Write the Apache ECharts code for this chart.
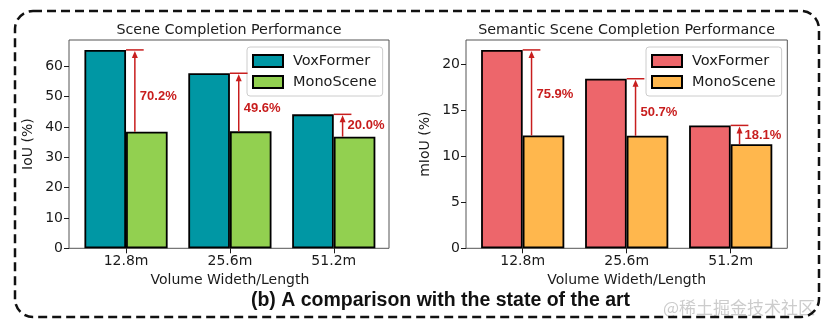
<!DOCTYPE html>
<html>
<head>
<meta charset="utf-8">
<script src="https://cdn.jsdelivr.net/npm/echarts@6/dist/echarts.min.js"></script>
<style>
  html, body { margin: 0; padding: 0; background: #fff; }
  #chart { width: 831px; height: 330px; }
</style>
</head>
<body>
<div id="chart"></div>
<script>
// Scene completion (IoU) and semantic scene completion (mIoU) at three volume sizes
const categories = ['12.8m', '25.6m', '51.2m'];
const iouVoxFormer = [65.38, 57.69, 44.15];
const iouMonoScene = [38.42, 38.55, 36.80];
const miouVoxFormer = [21.55, 18.42, 13.35];
const miouMonoScene = [12.25, 12.22, 11.30];

// relative gain of VoxFormer over MonoScene, and the height where each gain label sits
const iouGain = ['70.2%', '49.6%', '20.0%'];
const miouGain = ['75.9%', '50.7%', '18.1%'];
const iouGainLabelY = [50.0, 46.0, 40.4];
const miouGainLabelY = [16.74, 14.74, 12.28];

const iouTicks = [0, 10, 20, 30, 40, 50, 60];
const miouTicks = [0, 5, 10, 15, 20];

const seriesNames = ['VoxFormer', 'MonoScene'];

// matplotlib-like 5% headroom above the tallest bar
const iouMax = Math.max(...iouVoxFormer, ...iouMonoScene) * 1.05;
const miouMax = Math.max(...miouVoxFormer, ...miouMonoScene) * 1.05;

const FONT = '"DejaVu Sans", sans-serif';
const INK = '#1a1a1a';
const ARROW = '#c81e1e';

function gainArrows(labels) {
  return function (params, api) {
    const cat = api.value(0);
    const band = api.size([1, 0])[0];
    const top = api.coord([cat, api.value(2)]);
    const bot = api.coord([cat, api.value(1)]);
    const mid = api.coord([cat, api.value(3)]);
    const ax = top[0] + band * 0.085;
    return {
      type: 'group',
      children: [
        { type: 'line', shape: { x1: top[0], y1: top[1], x2: top[0] + band * 0.17, y2: top[1] },
          style: { stroke: ARROW, lineWidth: 1.5 } },
        { type: 'line', shape: { x1: ax, y1: bot[1], x2: ax, y2: top[1] + 6 },
          style: { stroke: ARROW, lineWidth: 1.5 } },
        { type: 'polygon', shape: { points: [[ax, top[1] + 1], [ax - 3, top[1] + 8], [ax + 3, top[1] + 8]] },
          style: { fill: ARROW } },
        { type: 'text', x: ax + 5, y: mid[1],
          style: { text: labels[params.dataIndex], fill: ARROW, font: 'bold 13px "Liberation Sans", Arial, sans-serif',
                   verticalAlign: 'middle', align: 'left' } }
      ]
    };
  };
}

function arrowData(low, high, labelY) {
  return categories.map((c, i) => [i, low[i], high[i], labelY[i]]);
}

function frameY(gridIndex, max, ticks, name) {
  return {
    type: 'value', gridIndex, min: 0, max,
    name, nameLocation: 'middle', nameGap: 34, nameRotate: 90,
    nameTextStyle: { fontFamily: FONT, fontSize: 14, color: INK },
    axisLine: { show: false },
    axisTick: { show: true, length: 5, lineStyle: { color: INK, width: 1 }, customValues: ticks },
    axisLabel: { fontFamily: FONT, fontSize: 14, color: INK, margin: 6, customValues: ticks },
    splitLine: { show: false }
  };
}

function dataX(gridIndex) {
  return {
    type: 'category', gridIndex, data: categories,
    name: 'Volume Wideth/Length', nameLocation: 'middle', nameGap: 23,
    nameTextStyle: { fontFamily: FONT, fontSize: 14, color: INK },
    axisLine: { show: false },
    axisTick: { show: true, alignWithLabel: true, length: 5, lineStyle: { color: INK, width: 1 } },
    axisLabel: { fontFamily: FONT, fontSize: 14, color: INK, margin: 6 }
  };
}

function legendBox(left, suffix) {
  return {
    orient: 'vertical', left, top: 47,
    data: seriesNames.map(n => n + suffix),
    formatter: n => n.split('|')[0],
    icon: 'rect', itemWidth: 30, itemHeight: 12, itemGap: 5,
    padding: [6, 6, 6, 5],
    borderColor: '#cccccc', borderWidth: 1, borderRadius: 3,
    backgroundColor: 'rgba(255,255,255,0.8)',
    selectedMode: false,
    textStyle: { fontFamily: FONT, fontSize: 14.5, color: INK, lineHeight: 16, padding: [0, 0, 0, 5] }
  };
}

const barBorder = { borderColor: '#000', borderWidth: 1.8 };

const option = {
  animation: false,
  backgroundColor: '#fff',
  grid: [
    { left: 69, top: 40, width: 320, height: 208.3, show: true, borderColor: '#555', borderWidth: 1, containLabel: false },
    { left: 74.1, top: 40, width: 311.6, height: 208.3, containLabel: false },
    { left: 466, top: 40, width: 321.3, height: 208.3, show: true, borderColor: '#555', borderWidth: 1, containLabel: false },
    { left: 470.7, top: 40, width: 312, height: 208.3, containLabel: false }
  ],
  xAxis: [
    { type: 'value', gridIndex: 0, show: false },
    dataX(1),
    { type: 'value', gridIndex: 2, show: false },
    dataX(3)
  ],
  yAxis: [
    frameY(0, iouMax, iouTicks, 'IoU (%)'),
    { type: 'value', gridIndex: 1, min: 0, max: iouMax, show: false },
    frameY(2, miouMax, miouTicks, 'mIoU (%)'),
    { type: 'value', gridIndex: 3, min: 0, max: miouMax, show: false }
  ],
  legend: [legendBox(247, '|iou'), legendBox(646, '|miou')],
  series: [
    { type: 'bar', name: 'VoxFormer|iou', xAxisIndex: 1, yAxisIndex: 1, data: iouVoxFormer,
      barWidth: 41.6, barGap: '0%', itemStyle: Object.assign({ color: '#0097a4' }, barBorder) },
    { type: 'bar', name: 'MonoScene|iou', xAxisIndex: 1, yAxisIndex: 1, data: iouMonoScene,
      barWidth: 41.6, barGap: '0%', itemStyle: Object.assign({ color: '#92d050' }, barBorder) },
    { type: 'custom', xAxisIndex: 1, yAxisIndex: 1, z: 5,
      data: arrowData(iouMonoScene, iouVoxFormer, iouGainLabelY), renderItem: gainArrows(iouGain) },
    { type: 'bar', name: 'VoxFormer|miou', xAxisIndex: 3, yAxisIndex: 3, data: miouVoxFormer,
      barWidth: 41.6, barGap: '0%', itemStyle: Object.assign({ color: '#ed666b' }, barBorder) },
    { type: 'bar', name: 'MonoScene|miou', xAxisIndex: 3, yAxisIndex: 3, data: miouMonoScene,
      barWidth: 41.6, barGap: '0%', itemStyle: Object.assign({ color: '#ffb74d' }, barBorder) },
    { type: 'custom', xAxisIndex: 3, yAxisIndex: 3, z: 5,
      data: arrowData(miouMonoScene, miouVoxFormer, miouGainLabelY), renderItem: gainArrows(miouGain) }
  ],
  graphic: [
    { type: 'rect', shape: { x: 15, y: 11, width: 804, height: 306, r: 18 },
      style: { fill: 'none', stroke: '#111', lineWidth: 2.5, lineDash: [9, 5] }, z: 100 },
    { type: 'text', x: 229, y: 30,
      style: { text: 'Scene Completion Performance', font: '14.3px ' + FONT, fill: INK, align: 'center', verticalAlign: 'middle' } },
    { type: 'text', x: 626.6, y: 30,
      style: { text: 'Semantic Scene Completion Performance', font: '14.3px ' + FONT, fill: INK, align: 'center', verticalAlign: 'middle' } },
    { type: 'text', x: 440.5, y: 301,
      style: { text: '(b) A comparison with the state of the art', font: 'bold 19.5px "Liberation Sans", Arial, sans-serif',
               fill: '#111', align: 'center', verticalAlign: 'middle' } },
    { type: 'text', x: 739, y: 308,
      style: { text: '@稀土掘金技术社区', font: '17px "Noto Sans CJK SC", sans-serif',
               fill: 'rgba(170,170,170,0.6)', align: 'center', verticalAlign: 'middle' } }
  ]
};

const chart = echarts.init(document.getElementById('chart'), null, { renderer: 'canvas' });
chart.setOption(option);
</script>
</body>
</html>
